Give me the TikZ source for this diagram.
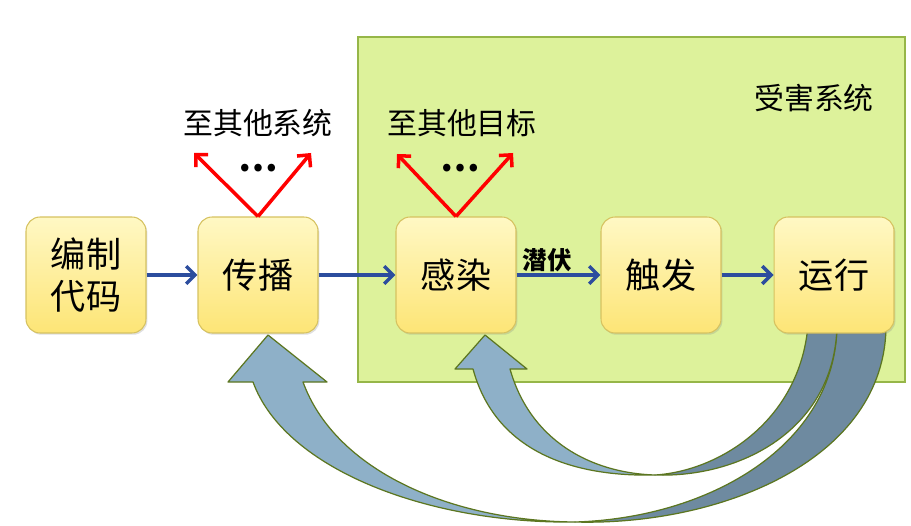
\documentclass[tikz,border=0pt]{standalone}
\usepackage{fontspec}
\setmainfont{Noto Sans CJK SC}
\usepackage{tikz}
\usetikzlibrary{arrows.meta, positioning, shadows}

\definecolor{zoneGreen}{RGB}{221,242,155}
\definecolor{zoneEdge}{RGB}{150,182,72}
\definecolor{boxTop}{RGB}{255,248,196}
\definecolor{boxBottom}{RGB}{253,229,118}
\definecolor{boxEdge}{RGB}{214,194,96}
\definecolor{flowBlue}{RGB}{44,77,158}
\definecolor{loopLight}{RGB}{142,176,200}
\definecolor{loopDark}{RGB}{110,138,160}
\definecolor{loopEdge}{RGB}{92,118,32}

\begin{document}
\begin{tikzpicture}[
  x=0.02cm, y=-0.02cm,
  box/.style={draw=boxEdge, rounded corners=8pt, minimum width=2.4cm, minimum height=2.32cm,
              align=center, font=\fontsize{20}{24}\selectfont, top color=boxTop, bottom color=boxBottom,
              line width=0.6pt, drop shadow={opacity=0.25, shadow xshift=0.8pt, shadow yshift=-1pt}},
  flow/.style={-{Straight Barb[length=5pt, width=10pt]}, line width=2pt, flowBlue},
  leak/.style={-{Straight Barb[length=5pt, width=10pt]}, line width=2pt, red},
  lbl/.style={font=\fontsize{17}{20}\selectfont},
  loopfront/.style={fill=loopLight, draw=loopEdge, line width=0.7pt, line join=round},
  loopback/.style={fill=loopDark, draw=loopEdge, line width=0.7pt, line join=round}
]
  \useasboundingbox (0,0) rectangle (911,526);

  % victim system area
  \draw[zoneEdge, fill=zoneGreen, line width=1pt] (358,37) rectangle (905,382);
  \node[lbl] (victim) at (814,98) {受害系统};

  % feedback loops
  \draw[loopback] (575,522) .. controls (710,518) and (836,445) .. (837,325) -- (886,325)
    .. controls (886,460) and (720,526) .. (575,522) -- cycle;
  \draw[loopfront] (268,335) -- (327,382) -- (303,382) .. controls (335,470) and (450,521) .. (575,522)
    .. controls (430,524) and (285,470) .. (253,382) -- (228,382) -- cycle;
  \draw[loopback] (655,475) .. controls (720,471) and (800,420) .. (808,325) -- (837,325)
    .. controls (835,430) and (740,478) .. (655,475) -- cycle;
  \draw[loopfront] (485,335) -- (527,369) -- (510,369) .. controls (530,440) and (590,473) .. (655,475)
    .. controls (570,477) and (495,450) .. (473,369) -- (455,369) -- cycle;

  % stages
  \node[box] (code) at (86,275) {编制\\代码};
  \node[box] (spread) at (258,275) {传播};
  \node[box] (infect) at (456,275) {感染};
  \node[box] (trigger) at (661,275) {触发};
  \node[box] (run) at (834,275) {运行};

  \draw[flow] (code) -- (spread);
  \draw[flow] (spread) -- (infect);
  \draw[flow] (infect) -- node[pos=0.37, above, inner sep=1pt, text=black,
    font=\bfseries\fontsize{14}{16}\selectfont] (latent) {潜伏} (trigger);
  \draw[flow] (trigger) -- (run);

  % spreading outwards
  \coordinate (sysL) at (194,153);
  \coordinate (sysR) at (311,153);
  \coordinate (tgtL) at (397,154);
  \coordinate (tgtR) at (513,153);
  \draw[leak] (spread.north) -- (sysL);
  \draw[leak] (spread.north) -- (sysR);
  \draw[leak] (infect.north) -- (tgtL);
  \draw[leak] (infect.north) -- (tgtR);
  \node[font=\bfseries\fontsize{20}{24}\selectfont] (moreSys) at (258,168) {…};
  \node[font=\bfseries\fontsize{20}{24}\selectfont] (moreTgt) at (460,168) {…};
  \node[lbl] (toSys) at (258,123) {至其他系统};
  \node[lbl] (toTgt) at (462,123) {至其他目标};
\end{tikzpicture}
\end{document}
